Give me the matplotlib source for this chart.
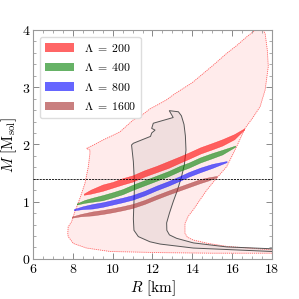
import matplotlib
matplotlib.use("Agg")
import matplotlib.pyplot as plt
from matplotlib.patches import Patch
from matplotlib.ticker import MultipleLocator, FuncFormatter

plt.rcParams['mathtext.fontset'] = 'cm'
plt.rcParams['font.family'] = 'serif'
plt.rcParams['font.serif'] = ['DejaVu Serif']

# outer allowed region (dashed red edge)
outer_r = [17.45, 17.06, 16.73, 16.2, 15.72, 15.1, 14.55, 14.0, 13.55, 13.1, 12.71, 12.3,
           11.87, 11.5, 11.04, 10.37, 9.9, 9.53, 9.1, 8.69, 8.86, 8.86, 8.78, 8.61, 8.36,
           8.11, 7.94, 7.77, 7.75, 7.77, 8.03, 8.69, 9.87, 12.38, 15.0, 18.5,
           18.5, 17.98, 15.72, 14.8, 14.05, 13.75, 13.63, 13.63, 13.8, 14.05, 14.38, 14.72,
           15.14, 15.72, 16.22, 16.64, 17.0, 17.4, 17.65, 17.81, 17.76, 17.65]
outer_m = [4.05, 3.97, 3.88, 3.72, 3.59, 3.40, 3.24, 3.08, 2.98, 2.88, 2.78, 2.70,
           2.62, 2.52, 2.43, 2.22, 2.14, 2.08, 2.0, 1.93, 1.90, 1.84, 1.61, 1.32, 1.06,
           0.83, 0.65, 0.56, 0.45, 0.39, 0.27, 0.19, 0.13, 0.11, 0.10, 0.10,
           0.15, 0.16, 0.22, 0.27, 0.33, 0.38, 0.45, 0.62, 0.75, 0.86, 1.03, 1.2,
           1.38, 1.61, 1.96, 2.28, 2.45, 2.66, 2.95, 3.36, 3.65, 3.94]

# grey region (solid dark edge)
grey_r = [12.84, 13.3, 13.45, 13.58, 13.65, 13.68, 13.6, 13.46, 13.25, 13.04, 12.85, 12.71,
          12.72, 12.85, 13.21, 14.05, 15.72, 18.5, 18.5, 18.0, 14.05, 12.38, 11.87, 11.29,
          11.07, 11.04, 11.07, 11.1, 11.04, 10.95, 11.04, 11.9, 11.96, 12.13, 11.96, 12.04, 13.04]
grey_m = [2.59, 2.57, 2.5, 2.35, 2.15, 1.9, 1.65, 1.44, 1.2, 1.0, 0.8, 0.63,
          0.5, 0.42, 0.36, 0.28, 0.21, 0.17, 0.13, 0.13, 0.19, 0.26, 0.30, 0.39,
          0.5, 0.7, 1.0, 1.3, 1.7, 1.99, 2.02, 2.14, 2.2, 2.25, 2.28, 2.37, 2.47]

# Lambda bands: radius grid, lower and upper mass edge
r200 = [8.55, 8.9, 9.5, 10.0, 10.5, 11.0, 11.6, 12.2, 12.8, 13.4, 13.8, 14.4, 15.0, 15.5, 16.1, 16.6]
lo200 = [1.12, 1.14, 1.19, 1.245, 1.30, 1.35, 1.44, 1.515, 1.59, 1.685, 1.745, 1.84, 1.915, 1.98, 2.09, 2.26]
hi200 = [1.14, 1.21, 1.30, 1.345, 1.41, 1.46, 1.55, 1.625, 1.71, 1.795, 1.855, 1.95, 2.025, 2.09, 2.18, 2.28]

r400 = [8.2, 8.6, 9.0, 9.5, 10.0, 10.5, 11.0, 11.6, 12.2, 12.8, 13.4, 13.8, 14.4, 15.0, 15.5, 16.15]
lo400 = [0.95, 0.98, 1.0, 1.025, 1.075, 1.13, 1.205, 1.285, 1.365, 1.445, 1.54, 1.59, 1.685, 1.76, 1.825, 1.96]
hi400 = [0.97, 1.03, 1.07, 1.115, 1.165, 1.22, 1.295, 1.375, 1.455, 1.535, 1.63, 1.68, 1.775, 1.85, 1.905, 1.98]

r800 = [8.05, 8.5, 9.0, 9.5, 10.0, 10.5, 11.0, 11.6, 12.2, 12.8, 13.4, 13.8, 14.4, 15.0, 15.72]
lo800 = [0.85, 0.87, 0.88, 0.91, 0.95, 0.99, 1.035, 1.11, 1.20, 1.28, 1.37, 1.435, 1.515, 1.59, 1.69]
hi800 = [0.87, 0.92, 0.96, 0.99, 1.03, 1.07, 1.115, 1.19, 1.28, 1.36, 1.45, 1.515, 1.595, 1.66, 1.71]

r1600 = [7.95, 8.4, 9.0, 9.5, 10.0, 10.5, 11.0, 11.6, 12.2, 12.8, 13.4, 13.8, 14.4, 14.8, 15.22]
lo1600 = [0.72, 0.745, 0.76, 0.785, 0.815, 0.85, 0.89, 0.96, 1.045, 1.125, 1.20, 1.25, 1.325, 1.37, 1.43]
hi1600 = [0.74, 0.785, 0.83, 0.855, 0.885, 0.92, 0.96, 1.03, 1.115, 1.195, 1.27, 1.32, 1.395, 1.425, 1.45]

lambdas = [200, 400, 800, 1600]
colors = ['red', 'green', 'blue', 'brown']
bands = [(r200, lo200, hi200), (r400, lo400, hi400), (r800, lo800, hi800), (r1600, lo1600, hi1600)]

fig = plt.figure(figsize=(2.99, 2.99), dpi=100)
ax = fig.add_axes([0.110, 0.134, 0.800, 0.766])

ax.fill(outer_r, outer_m, facecolor=(1, 0, 0, 0.08), edgecolor=(1, 0, 0, 0.6),
        linestyle=(0, (1.5, 1)), linewidth=0.6, zorder=1)
ax.fill(grey_r, grey_m, facecolor=(0.45, 0.45, 0.45, 0.1), edgecolor='#555555',
        linewidth=0.7, zorder=2)

for (r, lo, hi), c in zip(bands, colors):
    ax.fill_between(r, lo, hi, color=c, alpha=0.6, linewidth=0.3, zorder=3)

ax.axhline(1.4, color='black', linestyle=(0, (2.5, 1.2)), linewidth=0.6, zorder=4)

ax.set_xlim(6, 18)
ax.set_ylim(0, 4)
ax.xaxis.set_major_locator(MultipleLocator(2))
ax.xaxis.set_minor_locator(MultipleLocator(0.5))
ax.yaxis.set_major_locator(MultipleLocator(1))
ax.yaxis.set_minor_locator(MultipleLocator(0.2))
fmt = FuncFormatter(lambda v, p: f"${v:g}$")
ax.xaxis.set_major_formatter(fmt)
ax.yaxis.set_major_formatter(fmt)
ax.tick_params(which='both', direction='in', top=True, right=True, color='#888888',
               labelsize=10, pad=2)
ax.tick_params(which='major', length=4, width=0.7)
ax.tick_params(which='minor', length=2, width=0.5)
for s in ax.spines.values():
    s.set_color('#999999')
    s.set_linewidth(0.8)

ax.set_xlabel(r"$R\ [\mathrm{km}]$", fontsize=11, labelpad=2)
ax.set_ylabel(r"$M\ [\mathrm{M_{sol}}]$", fontsize=11, labelpad=2)

handles = [Patch(facecolor=c, alpha=0.6, edgecolor='none') for c in colors]
labels = [rf"$\Lambda\;=\;{l}$" for l in lambdas]
ax.legend(handles, labels, loc='upper left', fontsize=8.5, handlelength=2.5,
          handleheight=0.75, handletextpad=0.8, borderaxespad=0.6, labelspacing=0.55,
          fancybox=True, framealpha=1, edgecolor='#dddddd')

fig.savefig("out.png", dpi=100)
